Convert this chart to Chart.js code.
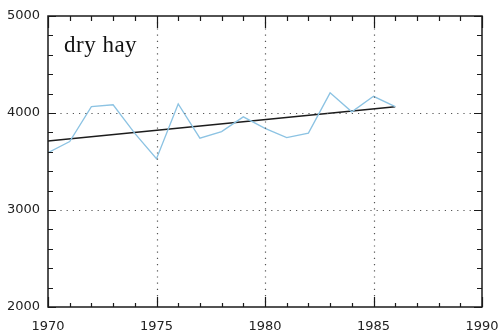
<!DOCTYPE html>
<html>
<head>
<meta charset="utf-8">
<script src="https://cdn.jsdelivr.net/npm/chart.js@4.4.1/dist/chart.umd.min.js"></script>
<style>
  html, body { margin: 0; padding: 0; background: #ffffff; }
  #wrap { width: 498px; height: 332px; }
</style>
</head>
<body>
<div id="wrap"><canvas id="c" width="498" height="332"></canvas></div>
<script>
// ---- data ----
const years = [1970, 1971, 1972, 1973, 1974, 1975, 1976, 1977, 1978, 1979, 1980, 1981, 1982, 1983, 1984, 1985, 1986];
const hay = [3590, 3705, 4065, 4085, 3790, 3528, 4093, 3740, 3808, 3960, 3842, 3746, 3792, 4208, 4012, 4172, 4065];
const trendYears = [1970, 1986];
const trendValues = [3711, 4065];
const xTickLabels = [1970, 1975, 1980, 1985, 1990];
const yTickLabels = [2000, 3000, 4000, 5000];
const xMinorStep = 1;
const yMinorStep = 200;
const panelLabel = 'dry hay';

const hayPoints = years.map((y, i) => ({ x: y, y: hay[i] }));
const trendPoints = trendYears.map((y, i) => ({ x: y, y: trendValues[i] }));

const framePlugin = {
  id: 'frame',
  afterDraw(chart) {
    const ctx = chart.ctx;
    const xs = chart.scales.x, ys = chart.scales.y;
    const a = chart.chartArea;
    ctx.save();
    // dotted grid at major ticks (interior only)
    ctx.strokeStyle = '#555';
    ctx.lineWidth = 1.2;
    ctx.setLineDash([1.2, 5]);
    xTickLabels.forEach(v => {
      if (v === xs.min || v === xs.max) return;
      const px = Math.round(xs.getPixelForValue(v)) + 0.5;
      ctx.beginPath(); ctx.moveTo(px, a.top); ctx.lineTo(px, a.bottom); ctx.stroke();
    });
    yTickLabels.forEach(v => {
      if (v === ys.min || v === ys.max) return;
      const py = Math.round(ys.getPixelForValue(v)) + 0.5;
      ctx.beginPath(); ctx.moveTo(a.left, py); ctx.lineTo(a.right, py); ctx.stroke();
    });
    ctx.setLineDash([]);
    // frame
    ctx.strokeStyle = '#1a1a1a';
    ctx.lineWidth = 1.5;
    ctx.strokeRect(a.left, a.top, a.right - a.left, a.bottom - a.top);
    // ticks, inward
    ctx.lineWidth = 1.2;
    for (let v = xs.min; v <= xs.max + 1e-9; v += xMinorStep) {
      const px = Math.round(xs.getPixelForValue(v)) + 0.5;
      const major = xTickLabels.includes(v);
      const lb = major ? 10 : 4;
      const lt = major ? 12 : 5;
      ctx.beginPath();
      ctx.moveTo(px, a.bottom); ctx.lineTo(px, a.bottom - lb);
      ctx.moveTo(px, a.top); ctx.lineTo(px, a.top + lt);
      ctx.stroke();
    }
    for (let v = ys.min; v <= ys.max + 1e-9; v += yMinorStep) {
      const py = Math.round(ys.getPixelForValue(v)) + 0.5;
      const major = yTickLabels.includes(v);
      const l = major ? 8 : 5;
      ctx.beginPath();
      ctx.moveTo(a.left, py); ctx.lineTo(a.left + l, py);
      ctx.moveTo(a.right, py); ctx.lineTo(a.right - l, py);
      ctx.stroke();
    }
    // panel label
    ctx.fillStyle = '#111';
    ctx.font = '23px "Liberation Serif", serif';
    ctx.textBaseline = 'alphabetic';
    ctx.textAlign = 'left';
    try { ctx.letterSpacing = '0.5px'; } catch (e) {}
    ctx.fillText(panelLabel, a.left + 16, a.top + 36);
    ctx.restore();
  }
};

new Chart(document.getElementById('c'), {
  type: 'line',
  data: {
    datasets: [
      {
        label: 'dry hay',
        data: hayPoints,
        borderColor: '#8cc3e3',
        borderWidth: 1.3,
        pointRadius: 0,
        tension: 0,
        fill: false
      },
      {
        label: 'trend',
        data: trendPoints,
        borderColor: '#1c1c1c',
        borderWidth: 1.6,
        pointRadius: 0,
        tension: 0,
        fill: false
      }
    ]
  },
  plugins: [framePlugin],
  options: {
    responsive: false,
    animation: false,
    devicePixelRatio: 1,
    layout: { padding: { top: 16, right: 16, left: 0, bottom: 0 } },
    plugins: { legend: { display: false }, tooltip: { enabled: false } },
    scales: {
      x: {
        type: 'linear',
        min: 1970, max: 1990,
        afterBuildTicks(scale) { scale.ticks = xTickLabels.map(v => ({ value: v })); },
        afterFit(scale) { scale.height = 25; scale.paddingLeft = 0; scale.paddingRight = 0; },
        grid: { display: false, drawTicks: false },
        border: { display: false },
        ticks: {
          maxRotation: 0, autoSkip: false, padding: 12,
          color: '#222',
          font: { family: 'DejaVu Sans', size: 13 },
          callback: v => String(v)
        }
      },
      y: {
        type: 'linear',
        min: 2000, max: 5000,
        afterBuildTicks(scale) { scale.ticks = yTickLabels.map(v => ({ value: v })); },
        afterFit(scale) { scale.width = 48; scale.paddingTop = 0; scale.paddingBottom = 0; },
        grid: { display: false, drawTicks: false },
        border: { display: false },
        ticks: {
          padding: 8,
          color: '#222',
          font: { family: 'DejaVu Sans', size: 13 },
          callback: v => String(v)
        }
      }
    }
  }
});
</script>
</body>
</html>
